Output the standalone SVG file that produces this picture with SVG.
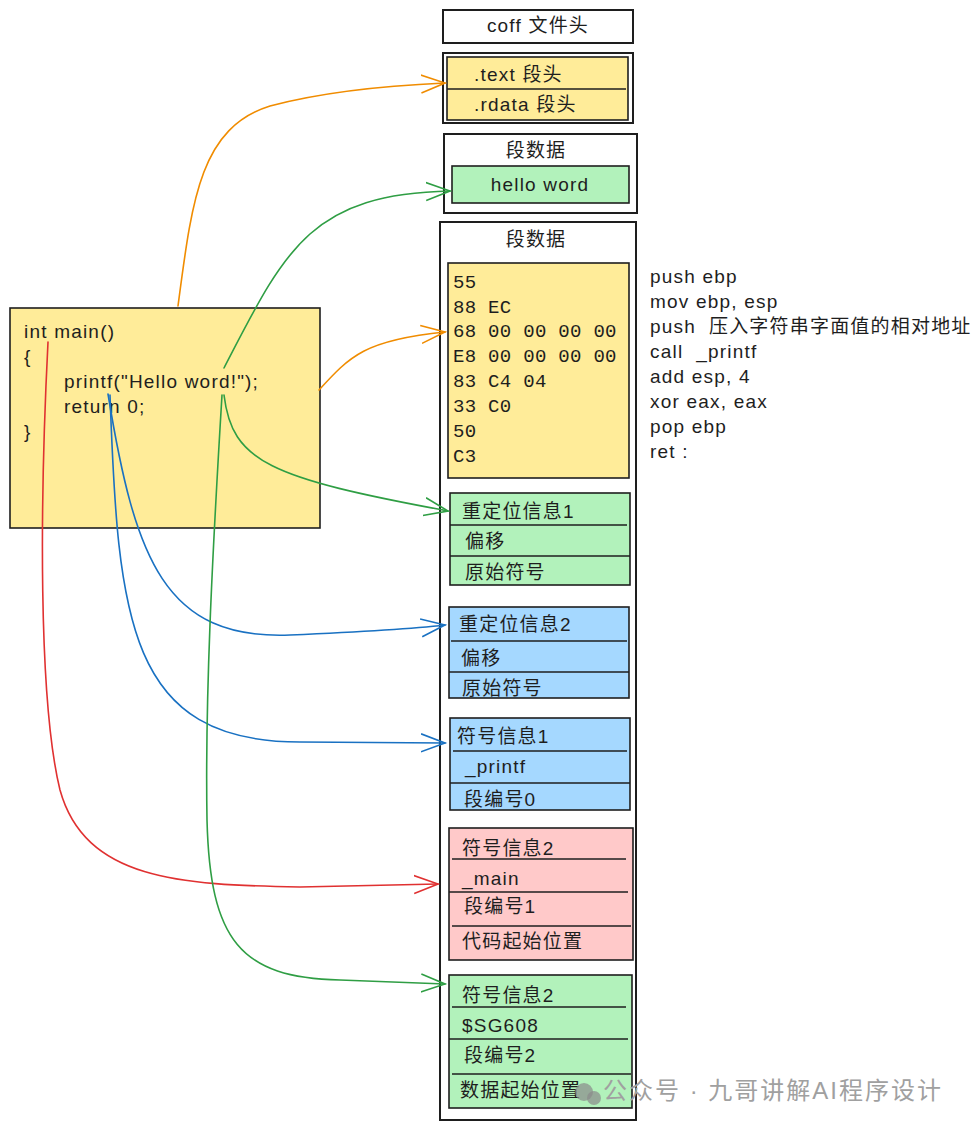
<svg xmlns="http://www.w3.org/2000/svg" width="979" height="1130" viewBox="0 0 979 1130">
<style>
.bx{stroke:#1e1e1e;stroke-width:1.6;}
.ob{fill:#ffffff;stroke:#1e1e1e;stroke-width:2;}
.y{fill:#ffec99;}
.g{fill:#b2f2bb;}
.b{fill:#a5d8ff;}
.p{fill:#ffc9c9;}
.dv{stroke:#1e1e1e;stroke-width:1.4;}
text{font-family:"Liberation Sans","Noto Sans CJK SC",sans-serif;font-size:19px;letter-spacing:1.2px;fill:#1e1e1e;dominant-baseline:central;white-space:pre;}
.mono{font-family:"Liberation Mono","Noto Sans CJK SC",monospace;font-size:19px;letter-spacing:0.3px;}
.c{text-anchor:middle;}
.wm{fill:#a0a0a0;font-size:24px;letter-spacing:2px;}
.ar{fill:none;stroke-width:1.6;stroke-linecap:round;}
</style>
<defs>
<marker id="mo" markerUnits="userSpaceOnUse" markerWidth="30" markerHeight="24" refX="24" refY="10" orient="auto"><path d="M0,1 L24,10 L0,19" fill="none" stroke="#f08c00" stroke-width="1.6"/></marker>
<marker id="mg" markerUnits="userSpaceOnUse" markerWidth="30" markerHeight="24" refX="24" refY="10" orient="auto"><path d="M0,1 L24,10 L0,19" fill="none" stroke="#2f9e44" stroke-width="1.6"/></marker>
<marker id="mb" markerUnits="userSpaceOnUse" markerWidth="30" markerHeight="24" refX="24" refY="10" orient="auto"><path d="M0,1 L24,10 L0,19" fill="none" stroke="#1971c2" stroke-width="1.6"/></marker>
<marker id="mr" markerUnits="userSpaceOnUse" markerWidth="30" markerHeight="24" refX="24" refY="10" orient="auto"><path d="M0,1 L24,10 L0,19" fill="none" stroke="#e03131" stroke-width="1.6"/></marker>
</defs>
<rect width="979" height="1130" fill="#ffffff"/>

<g id="coff-header">
<rect class="ob" x="443" y="10" width="190" height="33"/>
<text class="c" x="538" y="25">coff 文件头</text>
</g>

<g id="section-headers">
<rect class="ob" x="443" y="53" width="190" height="70"/>
<rect class="bx y" x="447" y="57" width="181" height="63"/>
<line class="dv" x1="447" y1="89" x2="626" y2="89"/>
<text x="474" y="74">.text 段头</text>
<text x="474" y="104">.rdata 段头</text>
</g>

<g id="rdata-section">
<rect class="ob" x="444" y="134" width="193" height="79"/>
<text class="c" x="536" y="150">段数据</text>
<rect class="bx g" x="452" y="166" width="177" height="37"/>
<text class="c" x="540" y="184">hello word</text>
</g>

<g id="text-section">
<rect class="ob" x="440" y="222" width="196" height="898"/>
<text class="c" x="536" y="239">段数据</text>
</g>

<g id="machine-code">
<rect class="bx y" x="448" y="263" width="181" height="215"/>
<text class="mono" x="453" y="283">55</text>
<text class="mono" x="453" y="308">88 EC</text>
<text class="mono" x="453" y="332">68 00 00 00 00</text>
<text class="mono" x="453" y="357">E8 00 00 00 00</text>
<text class="mono" x="453" y="382">83 C4 04</text>
<text class="mono" x="453" y="407">33 C0</text>
<text class="mono" x="453" y="432">50</text>
<text class="mono" x="453" y="457">C3</text>
</g>

<g id="assembly">
<text x="650" y="276">push ebp</text>
<text x="650" y="301">mov ebp, esp</text>
<text x="650" y="326">push  压入字符串字面值的相对地址</text>
<text x="650" y="351">call  _printf</text>
<text x="650" y="376">add esp, 4</text>
<text x="650" y="401">xor eax, eax</text>
<text x="650" y="426">pop ebp</text>
<text x="650" y="451">ret :</text>
</g>

<g id="source-code">
<rect class="bx y" x="10" y="308" width="310" height="220"/>
<text x="24" y="331">int main()</text>
<text x="24" y="356">{</text>
<text x="64" y="381">printf("Hello word!");</text>
<text x="64" y="406">return 0;</text>
<text x="24" y="431">}</text>
</g>

<g id="reloc1">
<rect class="bx g" x="450" y="493" width="180" height="92"/>
<line class="dv" x1="450" y1="525" x2="627" y2="525"/>
<line class="dv" x1="450" y1="556" x2="630" y2="556"/>
<text x="462" y="511">重定位信息1</text>
<text x="465" y="541">偏移</text>
<text x="465" y="572">原始符号</text>
</g>

<g id="reloc2">
<rect class="bx b" x="449" y="607" width="180" height="91"/>
<line class="dv" x1="451" y1="641" x2="627" y2="641"/>
<line class="dv" x1="449" y1="672" x2="629" y2="672"/>
<text x="459" y="624">重定位信息2</text>
<text x="461" y="658">偏移</text>
<text x="462" y="688">原始符号</text>
</g>

<g id="symbol1">
<rect class="bx b" x="450" y="718" width="180" height="92"/>
<line class="dv" x1="453" y1="751" x2="627" y2="751"/>
<line class="dv" x1="450" y1="783" x2="630" y2="783"/>
<text x="457" y="736">符号信息1</text>
<text x="465" y="766">_printf</text>
<text x="464" y="799">段编号0</text>
</g>

<g id="symbol2-main">
<rect class="bx p" x="449" y="828" width="184" height="132"/>
<line class="dv" x1="452" y1="859" x2="626" y2="859"/>
<line class="dv" x1="449" y1="892" x2="628" y2="892"/>
<line class="dv" x1="452" y1="926" x2="631" y2="926"/>
<text x="462" y="848">符号信息2</text>
<text x="462" y="878">_main</text>
<text x="464" y="906">段编号1</text>
<text x="462" y="941">代码起始位置</text>
</g>

<g id="symbol2-data">
<rect class="bx g" x="449" y="975" width="183" height="133"/>
<line class="dv" x1="452" y1="1007" x2="626" y2="1007"/>
<line class="dv" x1="449" y1="1039" x2="628" y2="1039"/>
<line class="dv" x1="452" y1="1074" x2="631" y2="1074"/>
<text x="462" y="995">符号信息2</text>
<text x="462" y="1025">$SG608</text>
<text x="464" y="1055">段编号2</text>
<text x="460" y="1090">数据起始位置</text>
</g>

<g id="connectors">
<path class="ar" stroke="#f08c00" marker-end="url(#mo)" d="M178,306 C192,200 200,128 270,106 C330,90 400,85 445,83"/>
<path class="ar" stroke="#f08c00" marker-end="url(#mo)" d="M319,390 C350,356 365,340 445,332"/>
<path class="ar" stroke="#2f9e44" marker-end="url(#mg)" d="M224,368 C285,250 310,194 450,191"/>
<path class="ar" stroke="#2f9e44" marker-end="url(#mg)" d="M224,395 C232,462 270,478 448,511"/>
<path class="ar" stroke="#1971c2" marker-end="url(#mb)" d="M108,394 C135,560 165,640 290,635 C360,632 420,628 445,625"/>
<path class="ar" stroke="#1971c2" marker-end="url(#mb)" d="M110,395 C118,620 128,742 300,742 L445,743"/>
<path class="ar" stroke="#e03131" marker-end="url(#mr)" d="M48,342 C40,500 38,700 60,790 C85,880 180,885 300,887 L438,884"/>
<path class="ar" stroke="#2f9e44" marker-end="url(#mg)" d="M222,395 C212,560 205,700 207,820 C210,940 240,978 340,980 L445,984"/>
</g>

<g id="watermark">
<circle cx="584" cy="1092" r="9" fill="#8a8a8a" opacity="0.7"/>
<circle cx="594" cy="1098" r="7" fill="#8a8a8a" opacity="0.7"/>
<text class="wm" x="603" y="1090">公众号 · 九哥讲解AI程序设计</text>
</g>
</svg>
